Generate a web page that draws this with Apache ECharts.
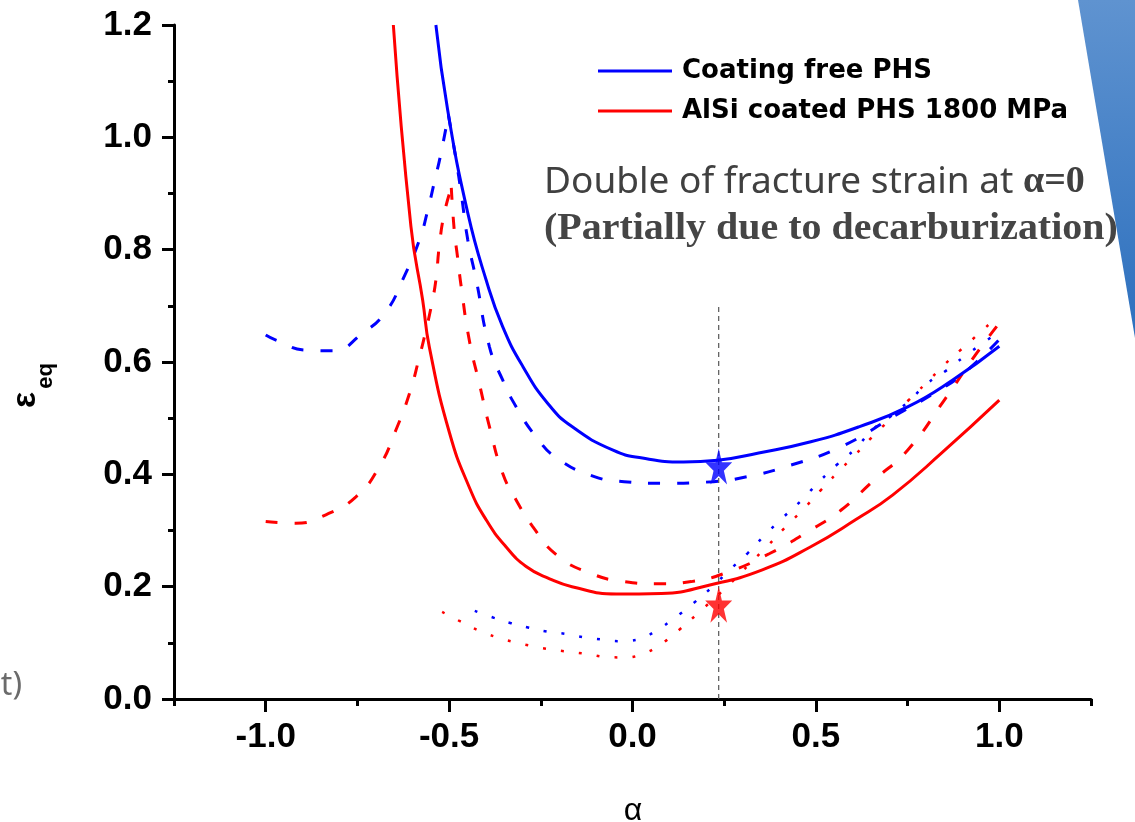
<!DOCTYPE html>
<html>
<head>
<meta charset="utf-8">
<script src="https://cdn.jsdelivr.net/npm/echarts@6.0.0/dist/echarts.min.js"></script>
<style>
  html, body { margin: 0; padding: 0; background: #fff; }
  #main { width: 1135px; height: 822px; }
</style>
</head>
<body>
<div id="main"></div>
<script>
  // alpha / eq. strain pairs
  const freeSolid = [[-0.536, 1.2], [-0.504, 1.049], [-0.449, 0.865], [-0.399, 0.746], [-0.354, 0.663], [-0.299, 0.592],
    [-0.232, 0.527], [-0.165, 0.485], [-0.053, 0.443], [0.027, 0.429], [0.139, 0.422], [0.232, 0.425], [0.344, 0.438],
    [0.486, 0.458], [0.619, 0.485], [0.750, 0.520], [0.873, 0.568], [1.0, 0.628]];
  const coatedSolid = [[-0.652, 1.2], [-0.604, 0.841], [-0.572, 0.710], [-0.554, 0.627], [-0.499, 0.474], [-0.445, 0.377],
    [-0.399, 0.319], [-0.345, 0.271], [-0.290, 0.236], [-0.226, 0.214], [-0.165, 0.200], [-0.044, 0.187], [0.079, 0.188],
    [0.211, 0.203], [0.354, 0.230], [0.486, 0.271], [0.608, 0.319], [0.709, 0.363], [0.843, 0.438], [1.0, 0.532]];
  const freeDashLeft = [[-1.0, 0.648], [-0.972, 0.639], [-0.890, 0.621], [-0.818, 0.620], [-0.736, 0.651], [-0.672, 0.690],
    [-0.627, 0.746], [-0.581, 0.817], [-0.559, 0.868], [-0.540, 0.921], [-0.522, 0.972], [-0.502, 1.040]];
  const freeDashRight = [[-0.502, 1.040], [-0.481, 0.960], [-0.467, 0.900], [-0.449, 0.817], [-0.426, 0.746], [-0.390, 0.627],
    [-0.354, 0.568], [-0.317, 0.520], [-0.263, 0.467], [-0.206, 0.429], [-0.104, 0.396], [-0.023, 0.387], [0.079, 0.384],
    [0.221, 0.387], [0.313, 0.396], [0.405, 0.411], [0.568, 0.449], [0.720, 0.506], [0.821, 0.544], [0.903, 0.580], [1.0, 0.640]];
  const coatedDashLeft = [[-1.0, 0.316], [-0.918, 0.313], [-0.836, 0.328], [-0.754, 0.360], [-0.690, 0.414], [-0.645, 0.479],
    [-0.608, 0.544], [-0.581, 0.609], [-0.563, 0.657], [-0.549, 0.698], [-0.536, 0.746], [-0.527, 0.805], [-0.513, 0.865],
    [-0.494, 0.910]];
  const coatedDashRight = [[-0.494, 0.910], [-0.486, 0.835], [-0.477, 0.787], [-0.467, 0.734], [-0.445, 0.639], [-0.417, 0.560],
    [-0.390, 0.485], [-0.354, 0.402], [-0.317, 0.354], [-0.272, 0.307], [-0.206, 0.256], [-0.115, 0.224], [-0.023, 0.209],
    [0.068, 0.205], [0.160, 0.209], [0.252, 0.224], [0.374, 0.259], [0.486, 0.301], [0.568, 0.336], [0.659, 0.390],
    [0.750, 0.443], [0.853, 0.535], [0.934, 0.612], [0.995, 0.665]];
  const freeDot = [[-0.430, 0.157], [-0.380, 0.145], [-0.331, 0.135], [-0.282, 0.127], [-0.232, 0.120], [-0.182, 0.116],
    [-0.133, 0.110], [-0.085, 0.106], [-0.035, 0.103], [0.015, 0.106], [0.065, 0.122], [0.114, 0.144], [0.165, 0.170],
    [0.215, 0.198], [0.262, 0.228], [0.313, 0.259], [0.361, 0.292], [0.410, 0.323], [0.461, 0.354], [0.509, 0.387],
    [0.557, 0.417], [0.608, 0.446], [0.654, 0.479], [0.705, 0.504], [0.756, 0.532], [0.802, 0.561], [0.858, 0.586],
    [0.903, 0.609], [0.954, 0.633], [0.980, 0.645]];
  const coatedDot = [[-0.519, 0.155], [-0.469, 0.138], [-0.420, 0.122], [-0.370, 0.110], [-0.321, 0.101], [-0.272, 0.094],
    [-0.222, 0.088], [-0.171, 0.084], [-0.122, 0.080], [-0.072, 0.075], [-0.024, 0.074], [0.026, 0.080], [0.076, 0.097],
    [0.125, 0.122], [0.174, 0.150], [0.272, 0.209], [0.321, 0.242], [0.369, 0.273], [0.417, 0.306], [0.466, 0.338],
    [0.511, 0.370], [0.557, 0.402], [0.606, 0.434], [0.654, 0.467], [0.702, 0.498], [0.751, 0.531], [0.800, 0.562],
    [0.850, 0.595], [0.899, 0.624], [0.950, 0.654], [0.980, 0.672]];
  const refLine = [[0.235, 0], [0.235, 0.7]];
  const freeStar = [[0.235, 0.414]];
  const coatedStar = [[0.235, 0.168]];
  const legendNames = ['Coating free PHS', 'AlSi coated PHS 1800 MPa'];

  const BLUE = '#0000ff';
  const RED = '#ff0000';
  const starPath = 'path://M50 0 L61.23 34.55 L97.55 34.55 L68.16 55.9 L79.39 90.45 L50 69.1 L20.61 90.45 L31.84 55.9 L2.45 34.55 L38.77 34.55 Z';
  const axisFont = {color: '#000', fontFamily: 'Liberation Sans', fontWeight: 'bold', fontSize: 35};

  function curve(name, data, color, dash, width) {
    return {
      name: name,
      type: 'line',
      data: data,
      smooth: 0.5,
      symbol: 'none',
      silent: true,
      lineStyle: {color: color, width: width, type: dash},
      itemStyle: {color: color}
    };
  }

  function star(data, color) {
    return {
      type: 'scatter',
      data: data,
      symbol: starPath,
      symbolSize: [27, 36],
      itemStyle: {color: color},
      z: 5,
      silent: true
    };
  }

  const chart = echarts.init(document.getElementById('main'));

  chart.setOption({
    animation: false,
    backgroundColor: '#fff',
    grid: [
      {left: 174, right: 44, top: 25, bottom: 123},
      {left: 265.7, right: 135.7, top: 25, bottom: 123}
    ],
    legend: {
      data: legendNames,
      orient: 'vertical',
      left: 593,
      top: 53,
      icon: 'rect',
      itemWidth: 74,
      itemHeight: 3,
      itemGap: 14,
      selectedMode: false,
      textStyle: {
        color: '#000',
        fontFamily: 'DejaVu Sans',
        fontWeight: 'bold',
        fontSize: 26,
        lineHeight: 26,
        padding: [0, 0, 0, 5]
      }
    },
    xAxis: [{
      type: 'value',
      gridIndex: 0,
      min: -1.25,
      max: 1.25,
      interval: 0.25,
      axisLine: {onZero: false, lineStyle: {color: '#000', width: 3}},
      axisTick: {length: 7, lineStyle: {color: '#000', width: 3}},
      axisLabel: {show: false},
      splitLine: {show: false}
    }, {
      type: 'value',
      gridIndex: 1,
      min: -1,
      max: 1,
      interval: 0.5,
      axisLine: {show: false, onZero: false},
      axisTick: {length: 13, lineStyle: {color: '#000', width: 3}},
      axisLabel: Object.assign({margin: 21, formatter: v => v.toFixed(1)}, axisFont),
      splitLine: {show: false}
    }],
    yAxis: [{
      type: 'value',
      gridIndex: 0,
      min: 0,
      max: 1.2,
      interval: 0.2,
      axisLine: {show: true, onZero: false, lineStyle: {color: '#000', width: 3}},
      axisTick: {show: true, length: 12, lineStyle: {color: '#000', width: 3}},
      minorTick: {show: true, splitNumber: 2, length: 6, lineStyle: {color: '#000', width: 3}},
      axisLabel: Object.assign({margin: 22, formatter: v => v.toFixed(1)}, axisFont),
      splitLine: {show: false}
    }, {
      type: 'value',
      gridIndex: 1,
      min: 0,
      max: 1.2,
      show: false
    }],
    series: [
      curve('freeDot', freeDot, BLUE, [3, 15], 2.5),
      curve('coatedDot', coatedDot, RED, [3, 15], 2.5),
      curve('freeDashL', freeDashLeft, BLUE, [12, 17], 3),
      curve('freeDashR', freeDashRight, BLUE, [12, 17], 3),
      curve('coatedDashL', coatedDashLeft, RED, [12, 17], 3),
      curve('coatedDashR', coatedDashRight, RED, [12, 17], 3),
      curve(legendNames[0], freeSolid, BLUE, 'solid', 3),
      curve(legendNames[1], coatedSolid, RED, 'solid', 3),
      {
        type: 'line',
        data: refLine,
        symbol: 'none',
        silent: true,
        lineStyle: {color: '#555', width: 1.2, type: [5, 4]}
      },
      star(freeStar, BLUE),
      star(coatedStar, RED)
    ],
    graphic: [{
      type: 'polygon',
      shape: {points: [[1078, 0], [1135, 0], [1135, 338]]},
      style: {
        fill: new echarts.graphic.LinearGradient(0, 0, 0, 1, [
          {offset: 0, color: '#5f93d0'},
          {offset: 1, color: '#2d70be'}
        ])
      },
      silent: true
    }, {
      type: 'text',
      x: 544,
      y: 182,
      style: {
        text: '{a|Double of fracture strain at }{b|α=0}',
        verticalAlign: 'middle',
        rich: {
          a: {fontFamily: 'Noto Sans', fontSize: 37, fill: '#404040'},
          b: {fontFamily: 'Liberation Serif', fontWeight: 'bold', fontSize: 38, fill: '#404040'}
        }
      }
    }, {
      type: 'text',
      x: 544,
      y: 229,
      scaleX: 1.08,
      style: {
        text: '(Partially due to decarburization)',
        fontFamily: 'Liberation Serif',
        fontWeight: 'bold',
        fontSize: 37,
        fill: '#454545',
        verticalAlign: 'middle'
      }
    }, {
      type: 'text',
      x: 633,
      y: 811,
      style: {
        text: 'α',
        fontFamily: 'Liberation Sans',
        fontSize: 32,
        fill: '#000',
        align: 'center',
        verticalAlign: 'middle'
      }
    }, {
      type: 'text',
      x: 26,
      y: 400,
      rotation: Math.PI / 2,
      style: {
        text: 'ε',
        fontFamily: 'Liberation Sans',
        fontWeight: 'bold',
        fontSize: 34,
        fill: '#000',
        align: 'center',
        verticalAlign: 'middle'
      }
    }, {
      type: 'text',
      x: 46,
      y: 376,
      rotation: Math.PI / 2,
      style: {
        text: 'eq',
        fontFamily: 'Liberation Sans',
        fontWeight: 'bold',
        fontSize: 22,
        fill: '#000',
        align: 'center',
        verticalAlign: 'middle'
      }
    }, {
      type: 'text',
      x: 22,
      y: 686,
      style: {
        text: 't)',
        fontFamily: 'Noto Sans',
        fontSize: 32,
        fill: '#6b6b6b',
        align: 'right',
        verticalAlign: 'middle'
      }
    }]
  });
</script>
</body>
</html>
